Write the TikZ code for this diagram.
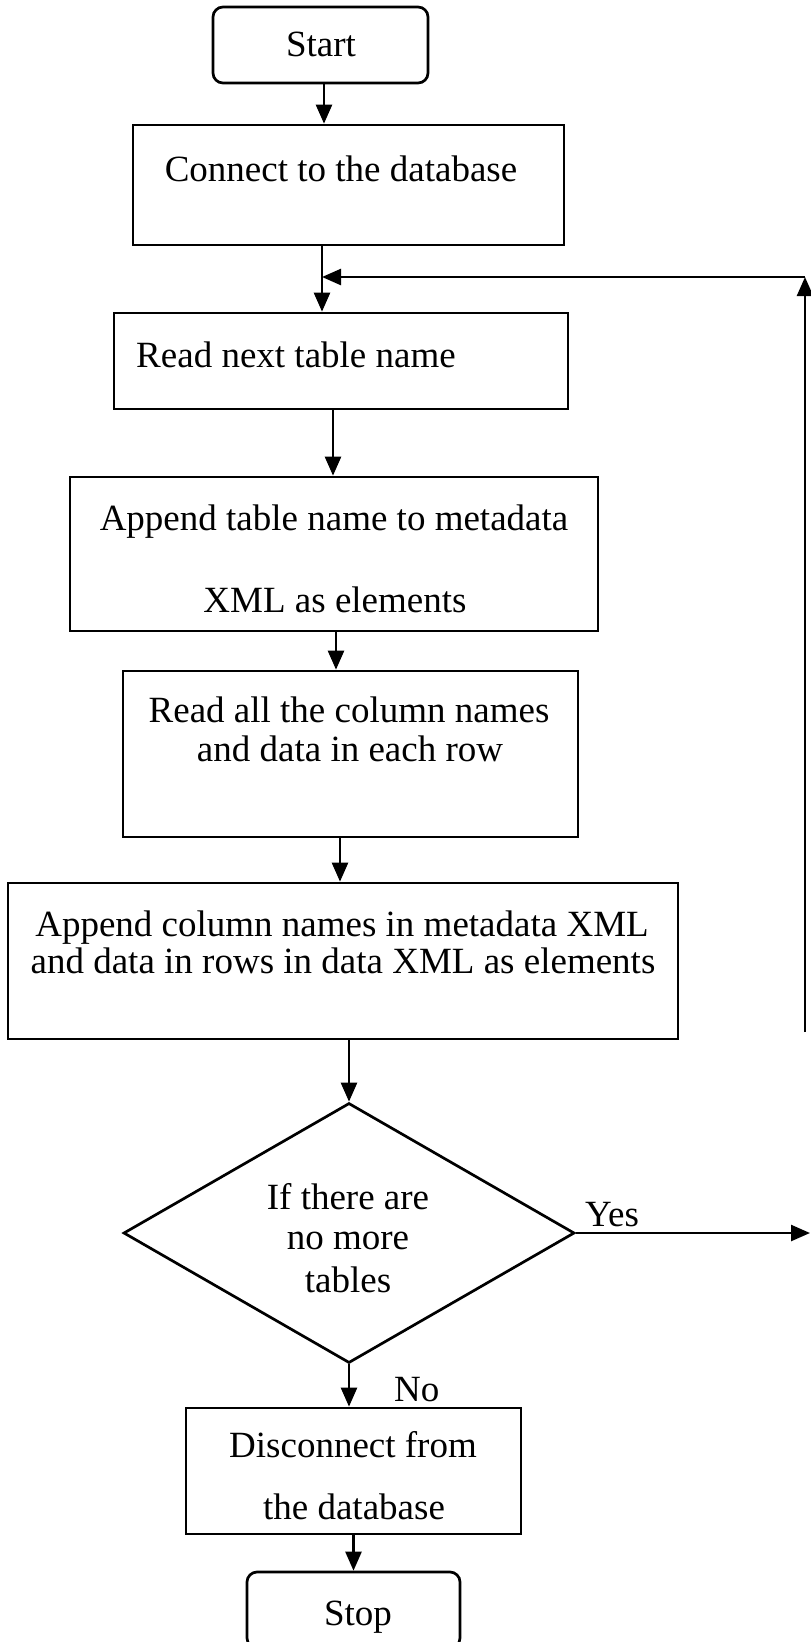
\documentclass[tikz,border=0pt]{standalone}
\usepackage{fontspec}
\setmainfont{Liberation Serif}
\usetikzlibrary{arrows.meta,shapes.geometric}
\begin{document}
\begin{tikzpicture}[x=1pt,y=-1pt,
  box/.style={draw, line width=2.7pt, inner sep=0pt},
  rbox/.style={box, rounded corners=10pt},
  dbox/.style={draw, line width=2.7pt, shape=diamond, inner sep=0pt},
  txt/.style={font=\fontsize{37}{42}\selectfont, inner sep=0pt, anchor=base},
  arr/.style={line width=2.5pt, -{Triangle[length=19pt,width=16pt]}}]
\useasboundingbox (0,0) rectangle (811,1642);
\clip (0,0) rectangle (811,1642);

% boxes
\node[rbox, minimum width=215pt, minimum height=76pt] (start) at (320.5,45) {};
\node[box, minimum width=431pt, minimum height=120pt] (connect) at (348.5,185) {};
\node[box, minimum width=454pt, minimum height=96pt] (read) at (341,361) {};
\node[box, minimum width=528pt, minimum height=154pt] (append) at (334,554) {};
\node[box, minimum width=455pt, minimum height=166pt] (readall) at (350.5,754) {};
\node[box, minimum width=670pt, minimum height=156pt] (appendcol) at (343,961) {};
\node[dbox, minimum width=451pt, minimum height=260pt] (cond) at (349,1233) {};
\node[box, minimum width=335pt, minimum height=126pt] (disc) at (353.5,1471) {};
\node[rbox, minimum width=213pt, minimum height=76pt] (stop) at (353.5,1610) {};

% texts
\node[txt] (startT) at (321,56) {Start};
\node[txt] (connectT) at (341,181) {Connect to the database};
\node[txt] (readT) at (296,367) {Read next table name};
\node[txt] (appendT1) at (334,530) {Append table name to metadata};
\node[txt] (appendT2) at (335,612) {XML as elements};
\node[txt] (readallT1) at (349,722) {Read all the column names};
\node[txt] (readallT2) at (350,761) {and data in each row};
\node[txt] (appendcolT1) at (342,936) {Append column names in metadata XML};
\node[txt] (appendcolT2) at (343,973) {and data in rows in data XML as elements};
\node[txt] (condT1) at (348,1209) {If there are};
\node[txt] (condT2) at (348,1249) {no more};
\node[txt] (condT3) at (348,1292) {tables};
\node[txt] (discT1) at (353,1457) {Disconnect from};
\node[txt] (discT2) at (354,1519) {the database};
\node[txt] (stopT) at (358,1625) {Stop};
\node[txt, anchor=base west] (yesT) at (585,1226) {Yes};
\node[txt, anchor=base west] (noT) at (394,1401) {No};

% helper coordinates
\coordinate (cr) at ([xshift=-26.5pt]connect.south);
\coordinate (fbBottom) at (805,1032);
\coordinate (fbTop) at (805,277);
\coordinate (yesEnd) at (810,1233);

% connectors
\draw[arr] ([xshift=3.5pt]start.south) -- ([xshift=3.5pt]start.south |- connect.north);
\draw[arr] (cr) -- (cr |- read.north);
\draw[arr] ([xshift=-8pt]read.south) -- ([xshift=-8pt]read.south |- append.north);
\draw[arr] ([xshift=2pt]append.south) -- ([xshift=2pt]append.south |- readall.north);
\draw[arr] ([xshift=-10.5pt]readall.south) -- ([xshift=-10.5pt]readall.south |- appendcol.north);
\draw[arr] (appendcol.south -| cond.north) -- (cond.north);
\draw[arr] (cond.south) -- (cond.south |- disc.north);
\draw[arr] (disc.south) -- (disc.south |- stop.north);
\draw[arr] (cond.east) -- (yesEnd);
\draw[arr] (fbBottom) -- (fbTop);
\draw[arr] (fbTop) -- (fbTop -| cr);
\end{tikzpicture}
\end{document}
